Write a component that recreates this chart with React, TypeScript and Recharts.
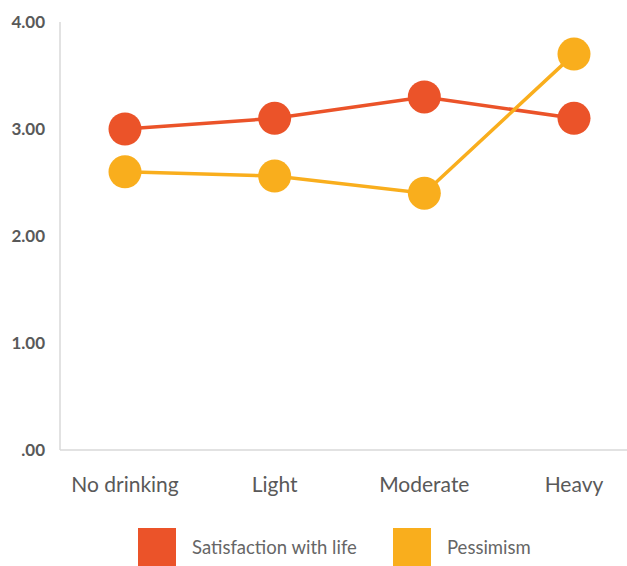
import { Line, LineChart, XAxis, YAxis } from "recharts";

const categories = ["No drinking", "Light", "Moderate", "Heavy"];
const satisfaction = [3.0, 3.1, 3.3, 3.1];
const pessimism = [2.6, 2.56, 2.4, 3.7];
const yTicks = [0, 1, 2, 3, 4];

const RED = "#EB5329";
const YELLOW = "#F9AE1D";
const TEXT = "#595959";

const data = categories.map((label, i) => ({
  label,
  satisfaction: satisfaction[i],
  pessimism: pessimism[i],
}));

const legendItems = [
  { name: "Satisfaction with life", color: RED, width: 255 },
  { name: "Pessimism", color: YELLOW, width: 150 },
];

function ChartLegend() {
  return (
    <div
      style={{
        position: "absolute",
        left: 138,
        top: 528,
        display: "flex",
        fontFamily: "Lato, sans-serif",
        fontSize: 18.5,
        color: "#666",
      }}
    >
      {legendItems.map((item) => (
        <div key={item.name} style={{ display: "flex", alignItems: "center", width: item.width }}>
          <span style={{ width: 38, height: 38, background: item.color, marginRight: 16, flexShrink: 0 }} />
          <span>{item.name}</span>
        </div>
      ))}
    </div>
  );
}

export default function App() {
  return (
    <div style={{ position: "absolute", left: 0, top: 0, width: 627, height: 566, background: "#fff" }}>
      {/* x axis takes 30px, so plot bottom lands at y=450 */}
      <LineChart width={627} height={566} data={data} margin={{ top: 22, right: 0, bottom: 86, left: 0 }}>
        <XAxis
          dataKey="label"
          height={30}
          padding={{ left: 65, right: 53 }}
          axisLine={{ stroke: "#d9d9d9", strokeWidth: 1.5 }}
          tickLine={false}
          tickSize={0}
          tickMargin={27}
          tick={{ fill: TEXT, fontSize: 21, fontFamily: "Lato, sans-serif" }}
        />
        <YAxis
          width={60}
          domain={[0, 4]}
          ticks={yTicks}
          interval={0}
          tickFormatter={(v: number) => (v === 0 ? ".00" : v.toFixed(2))}
          axisLine={{ stroke: "#d9d9d9", strokeWidth: 1.5 }}
          tickLine={false}
          tickSize={0}
          tickMargin={15}
          tick={{ fill: TEXT, fontSize: 17, fontWeight: 700, fontFamily: "Lato, sans-serif" }}
        />
        <Line
          dataKey="satisfaction"
          name="Satisfaction with life"
          stroke={RED}
          strokeWidth={3.5}
          dot={{ r: 16.5, fill: RED, stroke: "none" }}
          activeDot={false}
          isAnimationActive={false}
        />
        <Line
          dataKey="pessimism"
          name="Pessimism"
          stroke={YELLOW}
          strokeWidth={3.5}
          dot={{ r: 16.5, fill: YELLOW, stroke: "none" }}
          activeDot={false}
          isAnimationActive={false}
        />
      </LineChart>
      <ChartLegend />
    </div>
  );
}
